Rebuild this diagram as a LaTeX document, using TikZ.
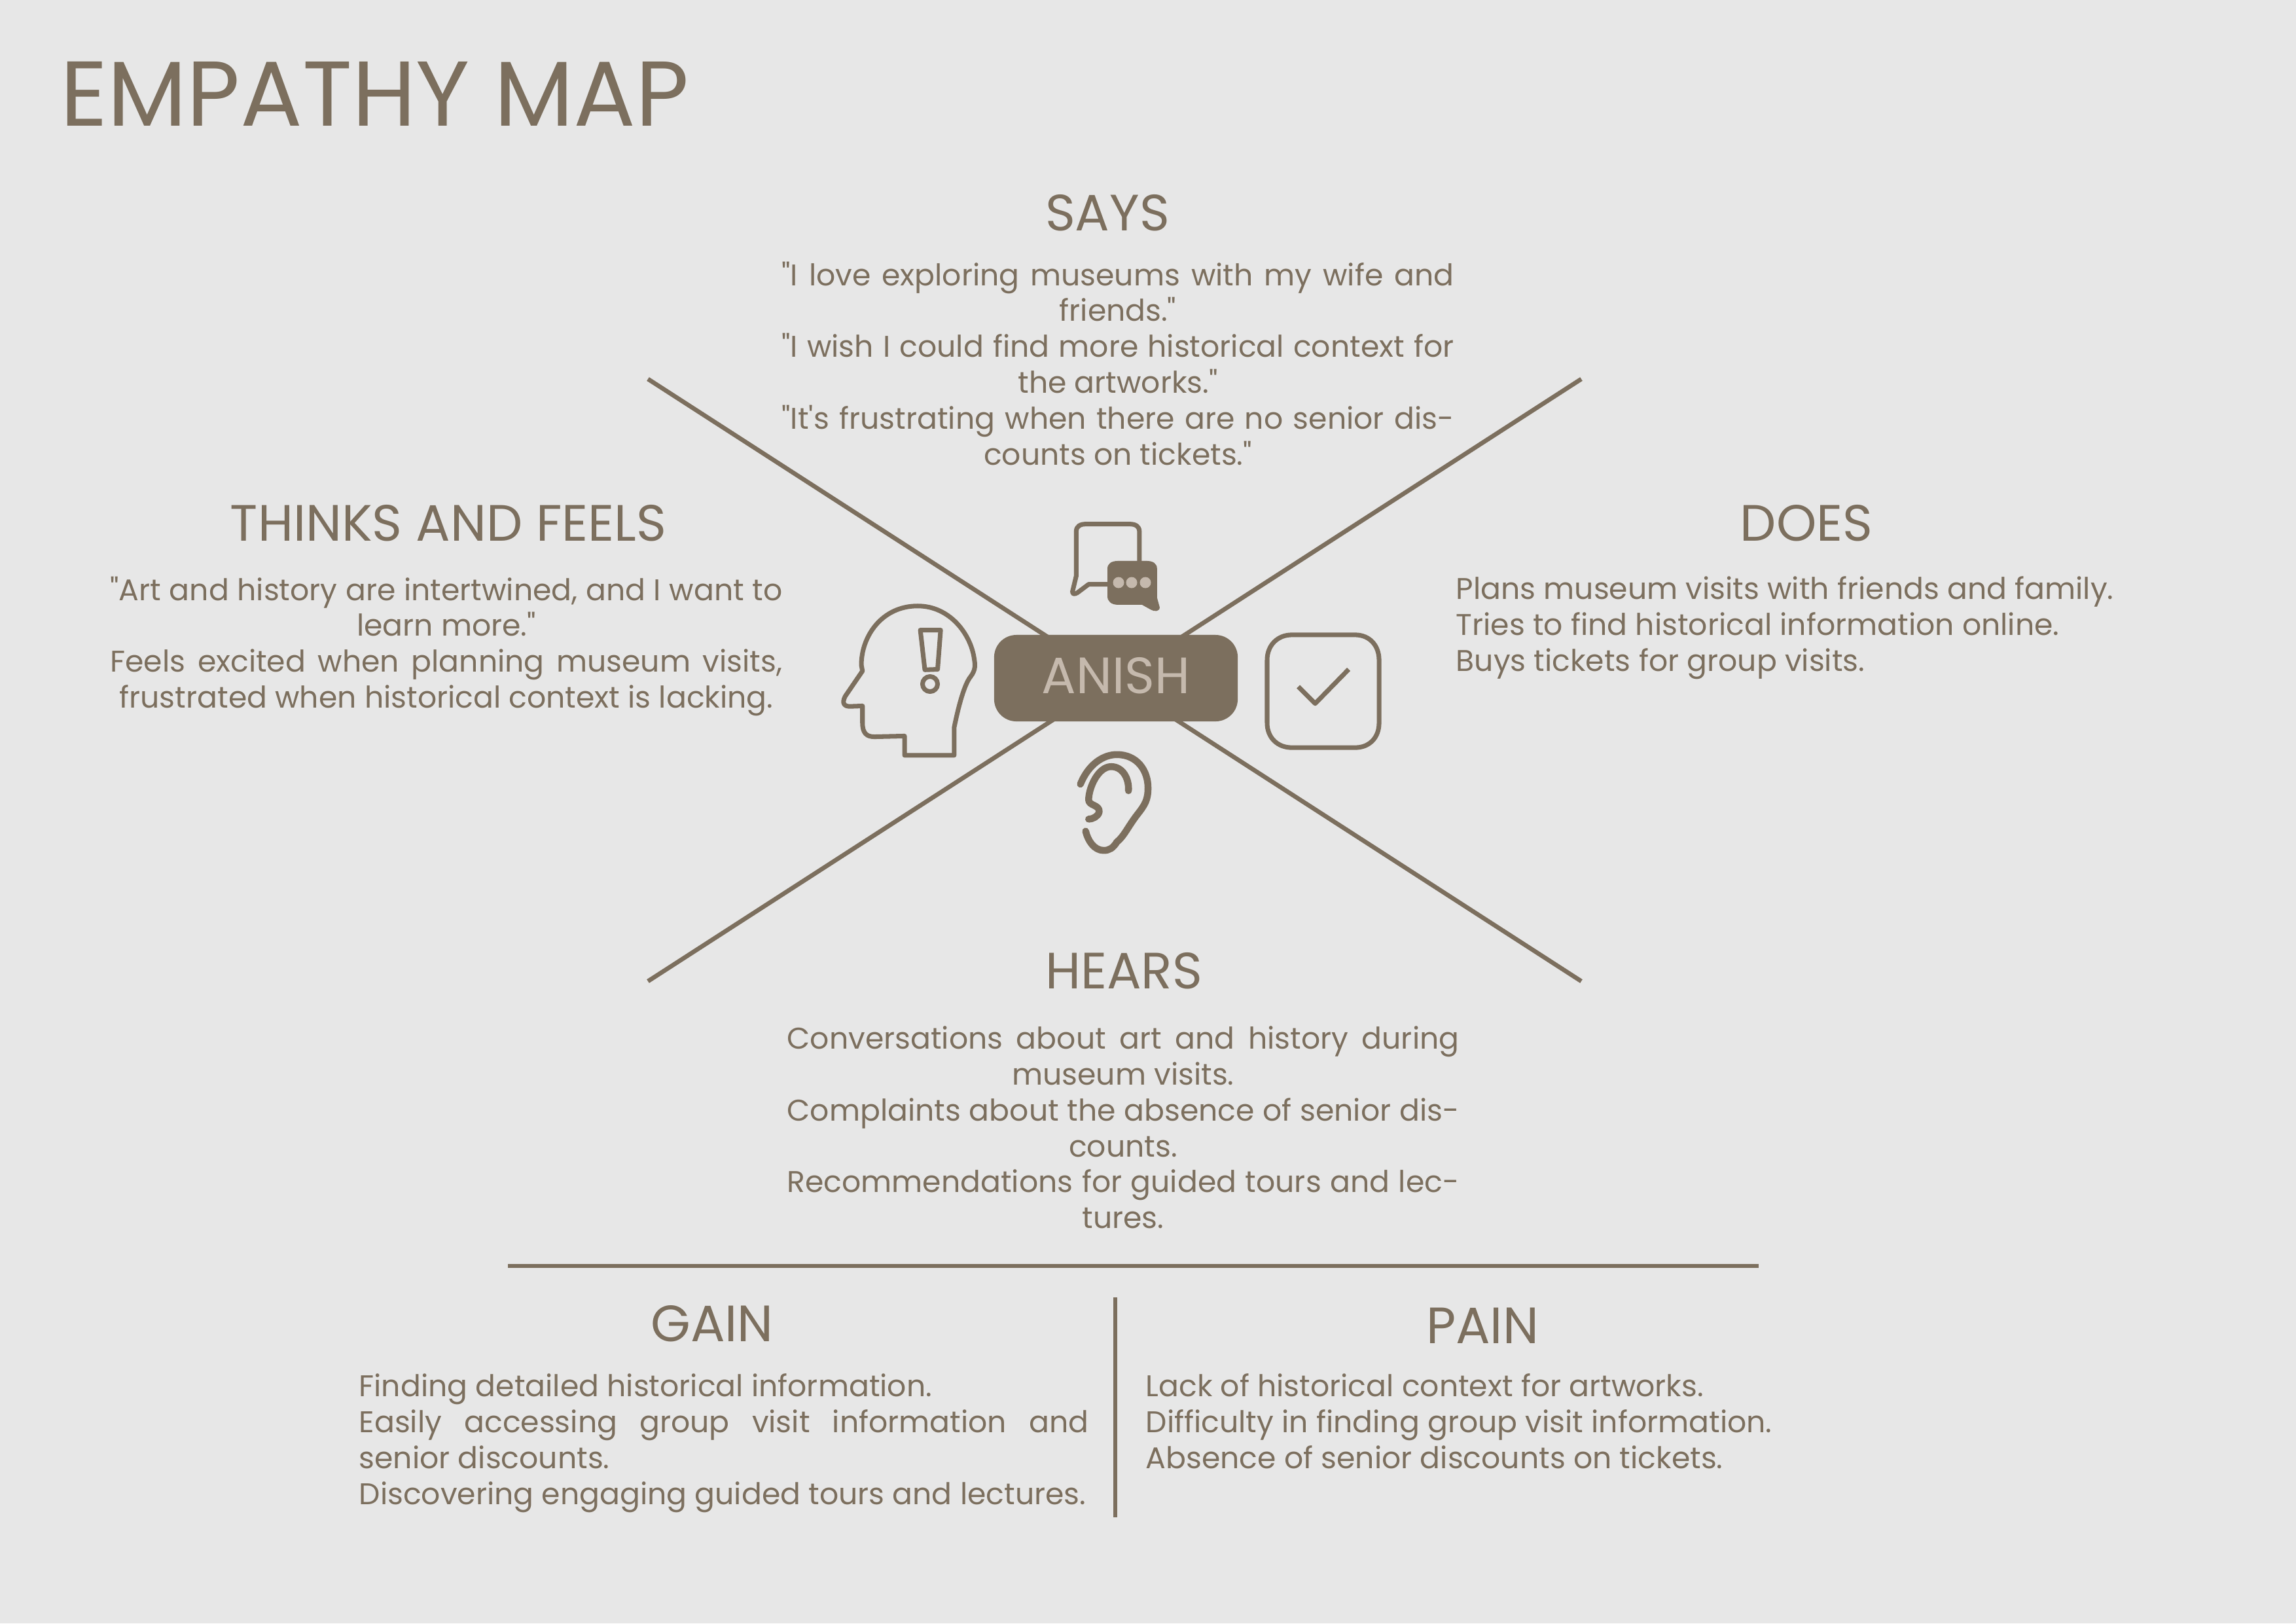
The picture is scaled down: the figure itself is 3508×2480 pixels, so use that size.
\documentclass[tikz,border=0pt]{standalone}
\usepackage{fontspec}
\setmainfont{Poppins}[Ligatures=TeXOff]
\usepackage{xcolor}
\usepackage{tikz}
\definecolor{ink}{HTML}{7C6F5E}
\definecolor{paper}{HTML}{E7E7E7}
\definecolor{sand}{HTML}{C5B9AD}
\newcommand{\fitline}[2]{\makebox[#1][s]{#2}}

\begin{document}
\begin{tikzpicture}[x=0.01cm,y=-0.01cm,
  rule/.style={ink,line width=1.9pt},
  icon/.style={ink,line width=2pt,line join=round},
  heading/.style={text=ink,inner sep=0pt,font=\fontsize{22.2}{26}\selectfont},
  body/.style={text=ink,inner sep=0pt,anchor=north,align=center,font=\fontsize{13}{15.6}\selectfont},
  bodyleft/.style={body,anchor=north west,align=left}]
  \useasboundingbox (0,0) rectangle (3508,2480);
  \fill[paper] (0,0) rectangle (3508,2480);
  \node[anchor=base west,text=ink,inner sep=0pt,font=\fontsize{40}{44}\selectfont] (title) at (92,192) {EMPATHY MAP};
  % the cross and its centre
  \coordinate (nw) at (990,579); \coordinate (se) at (2416,1499);
  \coordinate (ne) at (2416,579); \coordinate (sw) at (990,1499);
  \draw[rule] (nw) -- (se);
  \draw[rule] (ne) -- (sw);
  \node[fill=ink,text=sand,minimum width=3.72cm,minimum height=1.32cm,inner sep=0pt,rounded corners=0.34cm,text depth=2.5pt,font=\fontsize{22.2}{26}\selectfont] (anish) at (1705,1036) {ANISH};
  % quadrants
  \node[heading] (says) at (1692,325) {SAYS};
  \node[body] (saystext) at (1708,399) {\fitline{292pt}{"I love exploring museums with my wife and}\\friends."\\\fitline{292pt}{"I wish I could find more historical context for}\\the artworks."\\\fitline{292pt}{"It's frustrating when there are no senior dis-}\\counts on tickets."};
  \node[heading] (thinks) at (685,799) {THINKS AND FEELS};
  \node[body] (thinkstext) at (682,880) {\fitline{292pt}{"Art and history are intertwined, and I want to}\\learn more."\\\fitline{292pt}{Feels excited when planning museum visits,}\\frustrated when historical context is lacking.};
  \node[heading] (does) at (2760,799) {DOES};
  \node[bodyleft] (doestext) at (2224,880) {Plans museum visits with friends and family.\\Tries to find historical information online.\\Buys tickets for group visits.};
  \node[heading] (hears) at (1717,1483) {HEARS};
  \node[body] (hearstext) at (1716,1567) {\fitline{292pt}{Conversations about art and history during}\\museum visits.\\\fitline{292pt}{Complaints about the absence of senior dis-}\\counts.\\\fitline{292pt}{Recommendations for guided tours and lec-}\\tures.};
  % gain and pain
  \coordinate (ruleL) at (776,1934); \coordinate (ruleR) at (2687,1934);
  \coordinate (ruleT) at (1704,1982); \coordinate (ruleB) at (1704,2318);
  \draw[rule] (ruleL) -- (ruleR);
  \draw[rule] (ruleT) -- (ruleB);
  \node[heading] (gain) at (1088,2022) {GAIN};
  \node[bodyleft] (gaintext) at (548,2098) {Finding detailed historical information.\\\fitline{317pt}{Easily accessing group visit information and}\\senior discounts.\\Discovering engaging guided tours and lectures.};
  \node[heading] (pain) at (2265,2025) {PAIN};
  \node[bodyleft] (paintext) at (1750,2098) {Lack of historical context for artworks.\\Difficulty in finding group visit information.\\Absence of senior discounts on tickets.};
  % icons, traced from the crop
  \begin{scope}[shift={(1250,762)},x=0.00574cm,y=-0.00367cm]
    \draw[icon] (855,260) -- (855,135) .. controls (855,115) and (845,105) .. (830,105) -- (712,105) .. controls (697,105) and (687,115) .. (687,135) -- (687,320) -- (677,385) .. controls (676,398) and (684,396) .. (690,390) -- (720,355) -- (770,355);
    \fill[ink] (770,290) .. controls (770,270) and (780,258) .. (798,258) -- (875,258) .. controls (892,258) and (902,270) .. (902,290) -- (902,410) -- (909,450) .. controls (910,468) and (895,470) .. (885,460) -- (862,440) -- (798,440) .. controls (780,440) and (770,425) .. (770,405) -- cycle;
    \draw[icon] (230,1065) -- (362,1065) -- (362,950) .. controls (375,850) and (390,770) .. (405,740) .. controls (420,710) and (418,690) .. (415,660) .. controls (405,560) and (350,445) .. (265,445) .. controls (170,445) and (115,570) .. (115,690) -- (118,715) -- (72,820) .. controls (62,850) and (70,862) .. (85,862) -- (118,860) -- (118,930) .. controls (118,975) and (130,988) .. (150,988) -- (230,985) -- cycle;
    \draw[icon] (272,545) -- (326,545) -- (318,708) -- (284,710) -- cycle;
    \draw[icon] (1195,670) .. controls (1195,605) and (1225,565) .. (1260,565) -- (1430,565) .. controls (1465,565) and (1493,605) .. (1493,670) -- (1493,930) .. controls (1493,995) and (1465,1033) .. (1430,1033) -- (1260,1033) .. controls (1225,1033) and (1195,995) .. (1195,930) -- cycle;
    \draw[icon] (1278,780) -- (1323,850) -- (1412,708);
    \draw[icon,line width=3pt,line cap=round] (698,1185) .. controls (720,1100) and (760,1062) .. (795,1062) .. controls (850,1062) and (878,1130) .. (878,1200) .. controls (878,1250) and (870,1270) .. (850,1310) .. controls (825,1360) and (815,1400) .. (795,1425) .. controls (785,1450) and (775,1460) .. (760,1460) .. controls (735,1460) and (718,1420) .. (712,1380);
    \draw[icon,line width=3pt,line cap=round] (826,1212) .. controls (828,1160) and (810,1112) .. (780,1112) .. controls (745,1112) and (720,1200) .. (720,1250) .. controls (720,1275) and (750,1270) .. (748,1300) .. controls (745,1320) and (730,1330) .. (720,1330);
  \end{scope}
  \foreach \dotx in {1709,1729,1750} {\fill[sand] (\dotx,890) circle (8.5);}
  \draw[icon] (1421,1045) circle (11.5);
\end{tikzpicture}
\end{document}
